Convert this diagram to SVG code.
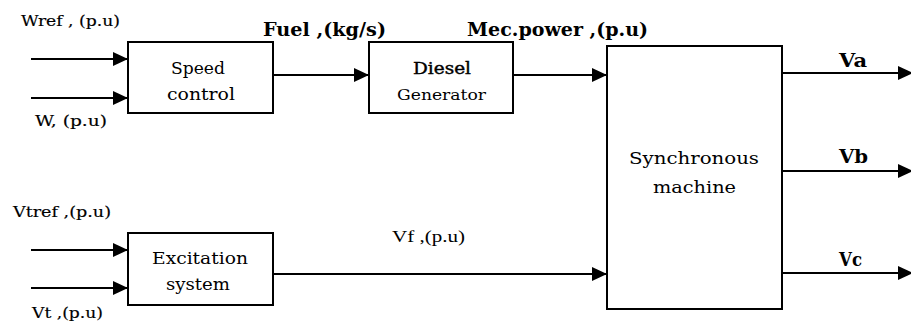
<svg xmlns="http://www.w3.org/2000/svg" width="911" height="326" viewBox="0 0 911 326">
<defs>
<marker id="ah" viewBox="0 0 15 14" refX="15" refY="7" markerWidth="15" markerHeight="14" markerUnits="userSpaceOnUse" orient="auto"><path d="M0,0 L15,7 L0,14 Z" fill="#000"/></marker>
</defs>
<style>
.box{fill:#fff;stroke:#000;stroke-width:2}
.ln{stroke:#000;stroke-width:2;fill:none;marker-end:url(#ah)}
.t{font-size:16px}
.s{font-size:14px;stroke:#000;stroke-width:0.15}
.big{font-size:19px;font-weight:bold}
.tm{font-size:16px}
</style>
<g id="connectors">
<line class="ln" x1="31" y1="59" x2="128" y2="59"/>
<line class="ln" x1="31" y1="98" x2="128" y2="98"/>
<line class="ln" x1="273" y1="75" x2="369" y2="75"/>
<line class="ln" x1="513" y1="75" x2="607" y2="75"/>
<line class="ln" x1="31" y1="250" x2="128" y2="250"/>
<line class="ln" x1="31" y1="288" x2="128" y2="288"/>
<line class="ln" x1="273" y1="274" x2="607" y2="274"/>
<line class="ln" x1="782" y1="73" x2="913" y2="73"/>
<line class="ln" x1="782" y1="171" x2="913" y2="171"/>
<line class="ln" x1="782" y1="273" x2="913" y2="273"/>
</g>
<g font-family="DejaVu Serif, Liberation Serif, serif" fill="#000">
<g id="labels">
<text class="s" x="21" y="26" textLength="99" lengthAdjust="spacingAndGlyphs">Wref , (p.u)</text>
<text class="s" x="35" y="126" textLength="72" lengthAdjust="spacingAndGlyphs">W, (p.u)</text>
<text class="s" x="13" y="217" textLength="98" lengthAdjust="spacingAndGlyphs">Vtref ,(p.u)</text>
<text class="s" x="32" y="318" textLength="71" lengthAdjust="spacingAndGlyphs">Vt ,(p.u)</text>
<text class="big" x="263" y="36" textLength="123" lengthAdjust="spacingAndGlyphs">Fuel ,(kg/s)</text>
<text class="big" x="467" y="36" textLength="181" lengthAdjust="spacingAndGlyphs">Mec.power ,(p.u)</text>
<text class="tm" x="392" y="242" textLength="73" lengthAdjust="spacingAndGlyphs" font-family="Liberation Serif, serif">Vf ,(p.u)</text>
<text class="big" x="839" y="67" textLength="28" lengthAdjust="spacingAndGlyphs">Va</text>
<text class="big" x="839" y="163" textLength="29" lengthAdjust="spacingAndGlyphs">Vb</text>
<text class="big" x="839" y="266" textLength="23" lengthAdjust="spacingAndGlyphs">Vc</text>
</g>
<g id="speed">
<rect class="box" x="128" y="42" width="145" height="71"/>
<text class="t" x="171" y="74" textLength="54" lengthAdjust="spacingAndGlyphs">Speed</text>
<text class="t" x="167" y="100" textLength="68" lengthAdjust="spacingAndGlyphs">control</text>
</g>
<g id="diesel">
<rect class="box" x="369" y="42" width="144" height="71"/>
<text class="t" x="413" y="74" textLength="58" lengthAdjust="spacingAndGlyphs" style="stroke:#000;stroke-width:0.4">Diesel</text>
<text class="t" x="397" y="100" textLength="89" lengthAdjust="spacingAndGlyphs" style="font-size:15px">Generator</text>
</g>
<g id="sync">
<rect class="box" x="607" y="46" width="175" height="263"/>
<text class="t" x="629" y="164" textLength="130" lengthAdjust="spacingAndGlyphs">Synchronous</text>
<text class="t" x="653" y="193" textLength="83" lengthAdjust="spacingAndGlyphs">machine</text>
</g>
<g id="excitation">
<rect class="box" x="128" y="233" width="145" height="72"/>
<text class="t" x="152" y="264" textLength="96" lengthAdjust="spacingAndGlyphs">Excitation</text>
<text class="t" x="166" y="290" textLength="64" lengthAdjust="spacingAndGlyphs">system</text>
</g>
</g>
</svg>
